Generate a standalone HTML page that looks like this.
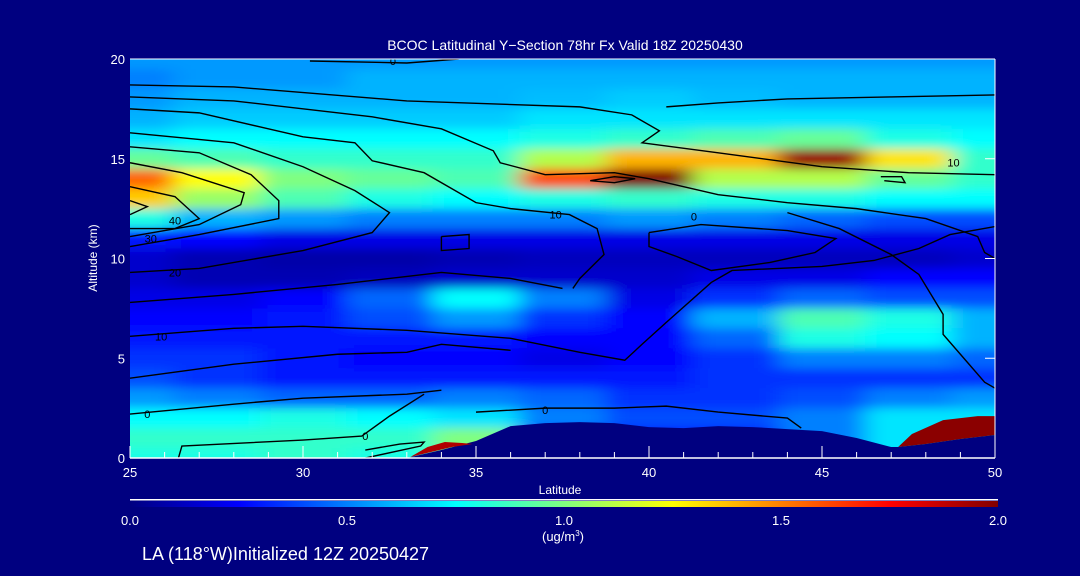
<!DOCTYPE html>
<html><head><meta charset="utf-8"><style>
body{margin:0;background:#000080;width:1080px;height:576px;overflow:hidden;font-family:"Liberation Sans",sans-serif}
svg{display:block}
text{fill:#fff;font-family:"Liberation Sans",sans-serif}
</style></head><body>
<svg id="chart" width="1080" height="576">
<defs>
<clipPath id="pc"><rect x="130" y="59" width="865" height="399"/></clipPath>
<filter id="bl" x="-5%" y="-5%" width="110%" height="110%"><feGaussianBlur stdDeviation="12 5"/></filter>
<linearGradient id="jet" x1="0" x2="1" y1="0" y2="0">
<stop offset="0" stop-color="#000080"/><stop offset="0.125" stop-color="#0000ff"/><stop offset="0.375" stop-color="#00ffff"/><stop offset="0.625" stop-color="#ffff00"/><stop offset="0.875" stop-color="#ff0000"/><stop offset="1" stop-color="#800000"/>
</linearGradient>
</defs>
<rect x="0" y="0" width="1080" height="576" fill="#000080"/>
<g id="heat" clip-path="url(#pc)"><g id="cells" filter="url(#bl)"></g></g>
<g id="terrainG" clip-path="url(#pc)"></g>
<g id="contours" clip-path="url(#pc)"></g>
<g id="axes"></g>
<text x="565" y="50" text-anchor="middle" font-size="14">BCOC Latitudinal Y−Section 78hr  Fx Valid 18Z 20250430</text>
<text x="560" y="494" text-anchor="middle" font-size="12">Latitude</text>
<text x="97" y="258" text-anchor="middle" font-size="12" transform="rotate(-90 97 258)">Altitude (km)</text>
<rect x="130" y="499" width="868" height="1.5" fill="#fff"/>
<rect x="130" y="501" width="868" height="6" fill="url(#jet)"/>
<g id="cbticks"></g>
<text x="563" y="541" text-anchor="middle" font-size="13">(ug/m<tspan font-size="8" dy="-5">3</tspan><tspan dy="5">)</tspan></text>
<text x="142" y="560" font-size="18">LA (118°W)Initialized 12Z 20250427</text>
</svg>
<script>
const lats=[25,27.5,30,32.5,35,37.5,40,42.5,45,47.5,50];
const alts=[20,19,18,17,16,15,14,13,12,11,10,9,8,7,6,5,4,3,2,1,0];
const values=[
[.55,.55,.55,.55,.55,.55,.55,.55,.55,.55,.55],
[.5,.55,.55,.6,.6,.6,.6,.6,.6,.6,.6],
[.55,.6,.6,.6,.6,.62,.65,.62,.6,.6,.6],
[.6,.65,.65,.65,.65,.7,.7,.7,.7,.7,.7],
[.7,.75,.75,.75,.75,.8,.85,.9,.95,.8,.75],
[.95,.9,.85,.85,.85,1.1,1.4,1.4,1.95,1.3,.85],
[1.55,1.25,1.0,.95,.9,1.6,2.0,1.1,1.1,.95,.85],
[1.35,1.05,.9,.8,.75,.8,.85,.8,.8,.75,.75],
[.8,.6,.55,.5,.5,.5,.55,.5,.45,.4,.4],
[.3,.25,.2,.2,.2,.2,.2,.2,.2,.2,.2],
[.15,.1,.08,.08,.1,.12,.12,.12,.12,.12,.15],
[.15,.1,.1,.12,.15,.15,.15,.2,.2,.25,.25],
[.2,.2,.25,.45,.75,.5,.2,.35,.45,.4,.4],
[.25,.25,.3,.4,.55,.35,.25,.6,.9,.8,.6],
[.3,.3,.3,.3,.3,.25,.25,.45,.8,.75,.6],
[.35,.35,.3,.25,.25,.2,.25,.35,.5,.5,.45],
[.4,.35,.3,.3,.3,.3,.3,.35,.35,.35,.35],
[.55,.5,.45,.45,.5,.45,.35,.35,.4,.5,.55],
[.75,.75,.8,.75,.7,.5,.4,.4,.5,.7,.7],
[.85,.85,.85,.85,1.0,.3,.3,.3,.5,.7,.7],
[.8,.8,.85,.8,1.0,.3,.3,.3,.5,.7,.7]];
const terrainLat=[33,34,35,36,37,38,39,40,41,42,43,44,45,46,47,47.2,48,49,50];
const terrainAlt=[0,0.4,0.85,1.6,1.75,1.8,1.75,1.55,1.5,1.6,1.55,1.45,1.35,1.0,0.55,0.55,0.7,0.95,1.15];
const hotLat=[47.2,47.6,48.5,49.5,50,50,49,48,47.2];
const hotAlt=[0.55,1.2,1.9,2.1,2.1,1.15,0.95,0.7,0.55];
const hot2Lat=[33.1,33.6,34.1,34.6,34.9,34.3,33.7,33.1];
const hot2Alt=[0.05,0.55,0.8,0.75,0.7,0.55,0.3,0.05];
const xTicks=[25,30,35,40,45,50];
const yTicks=[0,5,10,15,20];
const cbTicks=[0.0,0.5,1.0,1.5,2.0];
const contourLines=[
[[30.2,19.9],[33,19.8],[34.5,20]],
[[25,18.7],[28,18.6],[33,17.9],[38,17.6],[39.5,17.2],[40.3,16.4],[39.8,15.8],[42,15.3],[45,14.6],[47.5,14.3],[50,14.2]],
[[25,18.1],[28,17.9],[32,17.1],[34,16.5],[35.5,15.4],[35.7,14.8],[37,14.2],[39,14.3],[40,14.0],[42,13.2],[44,12.8],[46,12.5],[48,12.0],[49.5,11.1],[49.7,10.3],[50,10]],
[[25,17.5],[27,17.3],[30,16.1],[31.5,15.8],[32,14.9],[33.5,14.3],[35,12.8],[36,12.5],[37.7,12.2],[38.5,11.5],[38.7,10.2],[38,9],[37.8,8.5]],
[[25,16.3],[28,15.8],[30,14.6],[31.5,13.4],[32.5,12.3],[32,11.3],[30,10.4],[27,9.5],[25,9.3]],
[[25,15.6],[27,15.3],[28.5,14.2],[29.3,12.9],[29.3,12.0],[27,11.2],[25,10.6]],
[[25,14.8],[26.5,14.3],[28.3,13.3],[28.2,12.7],[27,11.7],[25,11.1]],
[[25,13.6],[26.3,13.1],[27,12.0],[26.3,11.5],[25,11.5]],
[[25,12.9],[25.5,12.6],[25,12.2]],
[[25,7.8],[28,8.2],[31,8.7],[34,9.3],[36,9.0],[37.5,8.5]],
[[25,6.1],[28,6.5],[30,6.6],[33,6.4],[36,6.0],[38,5.3],[39.3,4.9],[39.8,5.7],[40.5,6.8],[41.8,8.8],[42.4,9.4],[45,9.6],[46.5,9.9],[47.8,10.5],[48.7,11.2],[50,11.6]],
[[25,4.0],[28,4.7],[31,5.2],[33,5.3],[34,5.7],[36,5.4]],
[[25,2.2],[28,2.7],[30,3.0],[33,3.2],[34,3.4]],
[[26.4,0],[26.5,0.6],[30,0.9],[31.7,1.1],[32.5,2.1],[33.5,3.2]],
[[31.8,0],[33.4,0.6],[33.5,0.8],[32.8,0.7],[31.8,0.4]],
[[35,2.3],[37,2.5],[39,2.5],[40.5,2.6],[42,2.3],[44,2.0],[44.4,1.5]],
[[40.5,17.6],[42,17.8],[44,18.0],[47,18.1],[50,18.2]],
[[44,12.3],[45.5,11.5],[47,10.2],[47.8,9.2],[48.5,7.2],[48.5,6.2],[49.2,4.8],[49.7,3.8],[50,3.5]],
[[40,11.3],[41.5,11.7],[44,11.4],[45.4,11.0],[44.8,10.3],[43.5,9.8],[41.8,9.4],[40.8,10.1],[40,10.6],[40,11.3]],
[[34,11.1],[34.8,11.2],[34.8,10.5],[34,10.4],[34,11.1]],
[[38.3,13.9],[39,13.8],[39.6,14.0],[39,14.1],[38.3,13.9]],
[[46.7,14.1],[47.3,14.1],[47.4,13.8],[46.8,13.9]]];
const contourLabels=[["0",32.6,19.9],["10",37.3,12.2],["0",41.3,12.1],["10",48.8,14.8],["40",26.3,11.9],["30",25.6,11.0],["20",26.3,9.3],["10",25.9,6.1],["0",25.5,2.2],["0",31.8,1.1],["0",37,2.4]];

const NS='http://www.w3.org/2000/svg';
function x(l){return 130+(l-25)*34.6;}
function y(a){return 458-a*19.95;}
function jet(v){let t=Math.max(0,Math.min(1,v/2));
 const st=[[0,0,0,128],[.125,0,0,255],[.375,0,255,255],[.625,255,255,0],[.875,255,0,0],[1,128,0,0]];
 for(let i=1;i<st.length;i++){if(t<=st[i][0]){const a=st[i-1],b=st[i],f=(t-a[0])/(b[0]-a[0]);
  return `rgb(${Math.round(a[1]+f*(b[1]-a[1]))},${Math.round(a[2]+f*(b[2]-a[2]))},${Math.round(a[3]+f*(b[3]-a[3]))})`;}}
 return 'rgb(128,0,0)';}
function mk(tag,attrs,parent){const e=document.createElementNS(NS,tag);for(const k in attrs)e.setAttribute(k,attrs[k]);parent.appendChild(e);return e;}
const cells=document.getElementById('cells');
const dl=lats[1]-lats[0];
alts.forEach((a,i)=>{lats.forEach((l,j)=>{
 const x0=x(l-dl/2),x1=x(l+dl/2),y0=y(a+0.5),y1=y(a-0.5);
 const r=mk('rect',{x:x0,y:y0,width:x1-x0+0.5,height:y1-y0+0.5,fill:jet(values[i][j])},cells);
 
 
});});
const tg=document.getElementById('terrainG');
function poly(la,aa,fill,name){const pts=la.map((l,i)=>x(l)+','+y(aa[i])).join(' ');
 const p=mk('polygon',{points:pts,fill:fill},tg);
 
 }
poly(terrainLat.concat([50,33]),terrainAlt.concat([0,0]),'#000080','terrain-mask');
poly(hot2Lat,hot2Alt,'#b00000','surface-hotspot-west');
poly(hotLat,hotAlt,'#8b0000','surface-hotspot-north');
const cg=document.getElementById('contours');
contourLines.forEach(c=>{const p=mk('polyline',{points:c.map(q=>x(q[0])+','+y(q[1])).join(' '),fill:'none',stroke:'#000','stroke-width':1.4},cg);
 
 });
contourLabels.forEach(c=>{const t=mk('text',{x:x(c[1]),y:y(c[2])+4,'text-anchor':'middle','font-size':11,style:'fill:#000'},cg);t.textContent=c[0];
 
 });
const ax=document.getElementById('axes');
mk('line',{x1:130,y1:59,x2:995,y2:59,stroke:'#fff','stroke-width':1},ax);
mk('line',{x1:130,y1:458,x2:995,y2:458,stroke:'#fff','stroke-width':1.5},ax);
mk('line',{x1:995,y1:59,x2:995,y2:458,stroke:'#fff','stroke-width':1},ax);
for(let l=25;l<=50;l+=1){const big=xTicks.includes(l);mk('line',{x1:x(l),y1:458,x2:x(l),y2:458-(big?12:6),stroke:'#fff'},ax);}
xTicks.forEach(l=>{const t=mk('text',{x:x(l),y:477,'text-anchor':'middle','font-size':13},ax);t.textContent=l;
 
 });
yTicks.forEach(a=>{const t=mk('text',{x:125,y:y(a)+5,'text-anchor':'end','font-size':13},ax);t.textContent=a;
 
 
 mk('line',{x1:995,y1:y(a),x2:985,y2:y(a),stroke:'#fff'},ax);});
const cb=document.getElementById('cbticks');
cbTicks.forEach(v=>{const t=mk('text',{x:130+v/2*868,y:525,'text-anchor':'middle','font-size':13},cb);t.textContent=v.toFixed(1);
 
 });
</script>
</body></html>
